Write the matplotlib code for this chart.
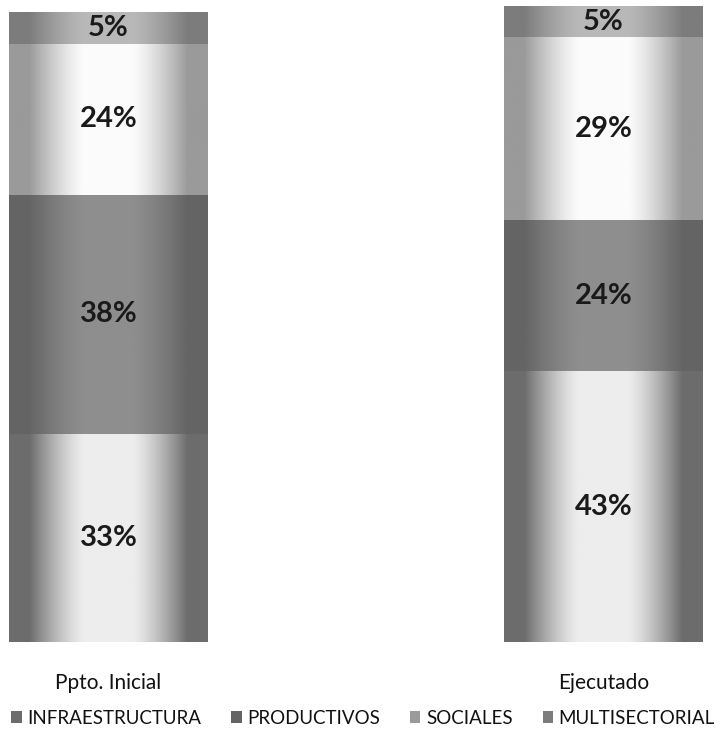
import matplotlib.pyplot as plt
import numpy as np
from matplotlib.colors import to_rgb
from matplotlib.patches import Patch

plt.rcParams['font.family'] = ['Lato', 'DejaVu Sans']

categories = ["Ppto. Inicial", "Ejecutado"]
series = ["INFRAESTRUCTURA", "PRODUCTIVOS", "SOCIALES", "MULTISECTORIAL"]
infraestructura = [33, 43]
productivos = [38, 24]
sociales = [24, 29]
multisectorial = [5, 5]
values = [infraestructura, productivos, sociales, multisectorial]

# (edge colour, centre colour) of the horizontal shading in each segment
shades = [("#6c6c6c", "#ededed"),
          ("#646464", "#8e8e8e"),
          ("#9a9a9a", "#fbfbfb"),
          ("#7c7c7c", "#b8b8b8")]

BAR_W = 0.402


def shade_bar(ax, bar, edge, centre):
    x0, y0 = bar.get_x(), bar.get_y()
    x1, y1 = x0 + bar.get_width(), y0 + bar.get_height()
    t = np.abs(np.linspace(-1, 1, 200))
    w = np.clip((t - 0.25) / 0.55, 0, 1) ** 1.3
    e, c = np.array(to_rgb(edge)), np.array(to_rgb(centre))
    img = c[None, :] + (e - c)[None, :] * w[:, None]
    im = ax.imshow(img[None, :, :], extent=(x0, x1, y0, y1), aspect="auto",
                   interpolation="bilinear", zorder=2)
    im.set_clip_path(bar)


def main():
    fig = plt.figure(figsize=(7.26, 7.41), dpi=100)
    ax = fig.add_axes([9 / 726, 99 / 741, 694 / 726, 633 / 741])

    x = np.arange(len(categories))
    bottom = np.zeros(len(categories))
    for vals, (edge, centre) in zip(values, shades):
        bars = ax.bar(x, vals, BAR_W, bottom=bottom, color=edge, zorder=1)
        for bar in bars:
            shade_bar(ax, bar, edge, centre)
        for xi, b, v in zip(x, bottom, vals):
            ax.text(xi, b + v / 2, f"{v}%", ha="center", va="center",
                    fontsize=21, fontweight="bold", color="#1a1a1a", zorder=3)
        bottom += vals

    ax.set_xlim(-BAR_W / 2, 1 + BAR_W / 2)
    ax.set_ylim(0, 100.5)
    ax.set_xticks(x)
    ax.set_xticklabels(categories, fontsize=15, color="#111111")
    ax.tick_params(axis="x", length=0, pad=22)
    ax.set_yticks([])
    for s in ax.spines.values():
        s.set_visible(False)

    handles = [Patch(facecolor=e, edgecolor="none") for e, _ in shades]
    fig.legend(handles, series, loc="center", bbox_to_anchor=(0.5, 0.031), ncol=4,
               frameon=False, fontsize=13.5, handlelength=0.55, handleheight=0.55,
               handletextpad=0.3, columnspacing=1.6, labelcolor="#111111",
               borderpad=0.1, borderaxespad=0)

    fig.savefig("out.png", dpi=100)


if __name__ == '__main__':
    main()
